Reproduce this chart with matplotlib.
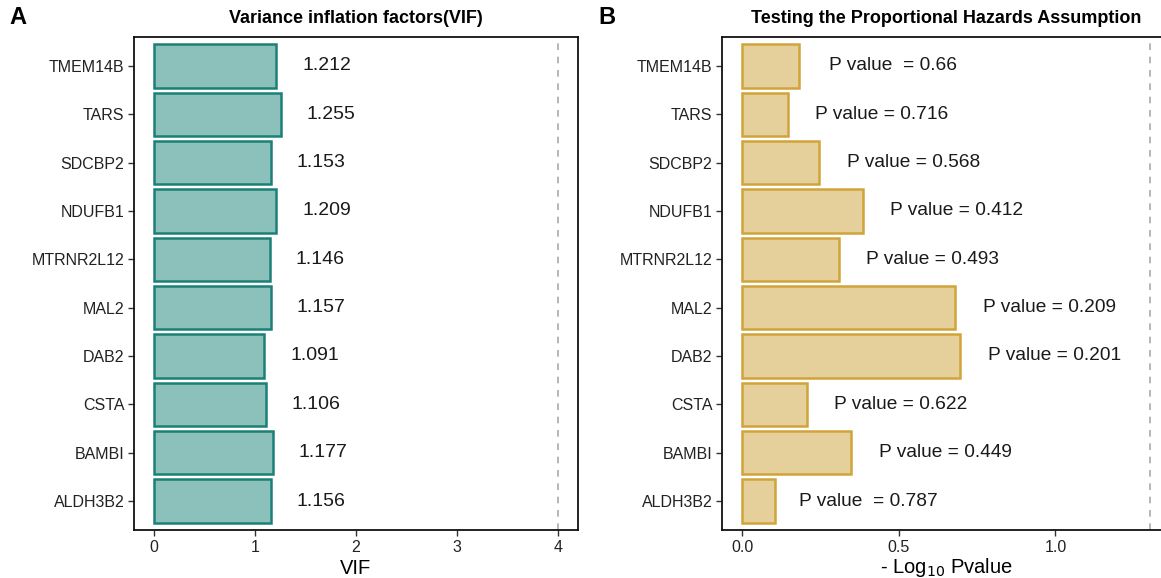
import numpy as np
import matplotlib
matplotlib.use("Agg")
import matplotlib.pyplot as plt

plt.rcParams['font.family'] = ['Liberation Sans', 'DejaVu Sans']

# Data
genes = ["TMEM14B", "TARS", "SDCBP2", "NDUFB1", "MTRNR2L12",
         "MAL2", "DAB2", "CSTA", "BAMBI", "ALDH3B2"]
vif = [1.212, 1.255, 1.153, 1.209, 1.146, 1.157, 1.091, 1.106, 1.177, 1.156]
pvals = [0.66, 0.716, 0.568, 0.412, 0.493, 0.209, 0.201, 0.622, 0.449, 0.787]
p_labels = ["P value  = 0.66", "P value = 0.716", "P value = 0.568",
            "P value = 0.412", "P value = 0.493", "P value = 0.209",
            "P value = 0.201", "P value = 0.622", "P value = 0.449",
            "P value  = 0.787"]

neglog = -np.log10(pvals)
ypos = np.arange(len(genes))[::-1] + 1  # first gene at top

fig = plt.figure(figsize=(11.61, 5.78), dpi=100)
ax1 = fig.add_axes([134/1161, 1-530/578, 444/1161, 493/578])
ax2 = fig.add_axes([722/1161, 1-530/578, 448/1161, 493/578])

# Panel A: VIF
ax1.barh(ypos, vif, height=0.9, color="#8cc0bb", edgecolor="#1b8078", linewidth=1.8)
for y, v in zip(ypos, vif):
    ax1.text(v + 0.5, y, f"{v}", ha="center", va="center", fontsize=14, color="#1a1a1a")
ax1.axvline(4, color="#aaaaaa", linestyle=(0, (4, 4)), linewidth=1.2)
ax1.set_xlim(-0.2, 4.2)
ax1.set_xticks([0, 1, 2, 3, 4])
ax1.set_xlabel("VIF", fontsize=14.5, labelpad=3)
ax1.set_title("Variance inflation factors(VIF)", fontsize=13, fontweight="bold", pad=10)

# Panel B: PH assumption
ax2.barh(ypos, neglog, height=0.9, color="#e5d09b", edgecolor="#d1a43a", linewidth=1.8)
for y, v, lab in zip(ypos, neglog, p_labels):
    ax2.text(v + 0.3, y, lab, ha="center", va="center", fontsize=13.8, color="#1a1a1a")
ax2.axvline(-np.log10(0.05), color="#aaaaaa", linestyle=(0, (4, 4)), linewidth=1.2)
ax2.set_xlim(-0.065, 1.366)
ax2.set_xticks([0.0, 0.5, 1.0])
ax2.set_xticklabels(["0.0", "0.5", "1.0"])
ax2.set_xlabel(r"- Log$_{10}$ Pvalue", fontsize=14.5, labelpad=1)
ax2.set_title("Testing the Proportional Hazards Assumption", fontsize=13,
              fontweight="bold", pad=10)

for ax in (ax1, ax2):
    ax.set_ylim(0.4, 10.6)
    ax.set_yticks(ypos)
    ax.set_yticklabels(genes)
    ax.tick_params(axis="both", length=4, width=1, color="#333333",
                   labelsize=11.5, labelcolor="#222222", pad=3)
    for s in ax.spines.values():
        s.set_linewidth(1.3)
        s.set_color("#111111")

fig.text(18/1161, 1-18/578, "A", fontsize=17, fontweight="bold", ha="center", va="center")
fig.text(607/1161, 1-18/578, "B", fontsize=17, fontweight="bold", ha="center", va="center")

fig.savefig("out.png", dpi=100)
